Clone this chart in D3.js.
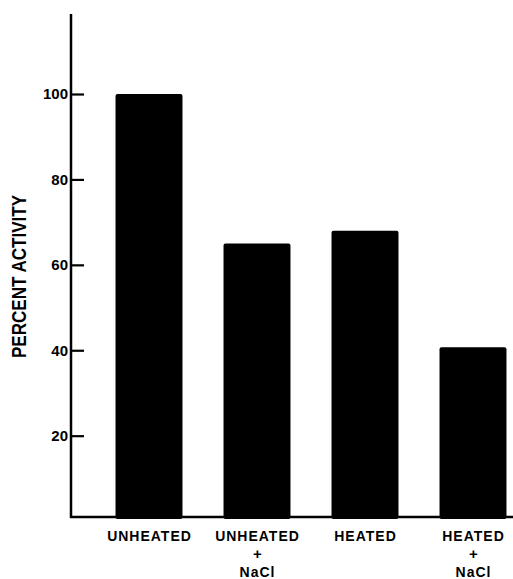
<!DOCTYPE html>
<html>
<head>
<meta charset="utf-8">
<script src="https://cdn.jsdelivr.net/npm/d3@7"></script>
<style>
  html, body { margin: 0; padding: 0; background: #fff; }
  svg { display: block; }
  text { font-family: "Liberation Sans", Arial, sans-serif; font-weight: bold; fill: #000; }
</style>
</head>
<body>
<svg id="chart" width="513" height="579"></svg>
<script>
const categories = ["UNHEATED", "UNHEATED+NaCl", "HEATED", "HEATED+NaCl"];
const labelLines = [["UNHEATED"], ["UNHEATED", "+", "NaCl"], ["HEATED"], ["HEATED", "+", "NaCl"]];
const values = [100, 65, 68, 40.7];
const yTicks = [20, 40, 60, 80, 100];

const svg = d3.select("#chart");
const axisX = 71, axisBottom = 517, axisTop = 14;

const y = d3.scaleLinear().domain([0, 100]).range([521.1, 94]);
const baseVal = y.invert(axisBottom);

const x = d3.scaleBand().domain(categories).range([95, 527]).paddingInner(0.38).paddingOuter(0.19);

// bars
svg.append("g").selectAll("rect").data(values).join("rect")
  .attr("x", (d, i) => x(categories[i]))
  .attr("width", x.bandwidth())
  .attr("y", d => y(d))
  .attr("height", d => y(baseVal) - y(d) + 2)
  .attr("rx", 2)
  .attr("fill", "#000");

// y axis ticks
const yAxis = d3.axisRight(y).tickValues(yTicks).tickSize(13).tickFormat("");
const gy = svg.append("g").attr("transform", `translate(${axisX},0)`).call(yAxis);
gy.select(".domain").remove();
gy.selectAll(".tick line").attr("stroke", "#000").attr("stroke-width", 2.2);

svg.append("line").attr("x1", axisX).attr("x2", axisX).attr("y1", axisTop).attr("y2", axisBottom + 1)
  .attr("stroke", "#000").attr("stroke-width", 2.5);
svg.append("line").attr("x1", axisX - 1).attr("x2", 513).attr("y1", axisBottom).attr("y2", axisBottom)
  .attr("stroke", "#000").attr("stroke-width", 2.5);

// tick labels
svg.append("g").selectAll("text").data(yTicks).join("text")
  .attr("x", axisX - 3)
  .attr("y", d => y(d))
  .attr("dy", "0.36em")
  .attr("text-anchor", "end")
  .style("font-size", "15px")
  .text(d => d);

// category labels
const lineY = [540.5, 558.5, 577];
const lg = svg.append("g");
labelLines.forEach((lines, i) => {
  const cx = x(categories[i]) + x.bandwidth() / 2;
  lines.forEach((t, j) => {
    lg.append("text")
      .attr("x", cx + 0.5)
      .attr("y", lineY[j])
      .attr("text-anchor", "middle")
      .style("font-size", t === "+" ? "15px" : "14px")
      .style("letter-spacing", t === "+" ? "0px" : "1px")
      .text(t);
  });
});

// y axis title
svg.append("text")
  .attr("transform", "translate(26,276.5) rotate(-90)")
  .attr("text-anchor", "middle")
  .attr("textLength", 163)
  .attr("lengthAdjust", "spacingAndGlyphs")
  .style("font-size", "20px")
  .text("PERCENT ACTIVITY");
</script>
</body>
</html>
